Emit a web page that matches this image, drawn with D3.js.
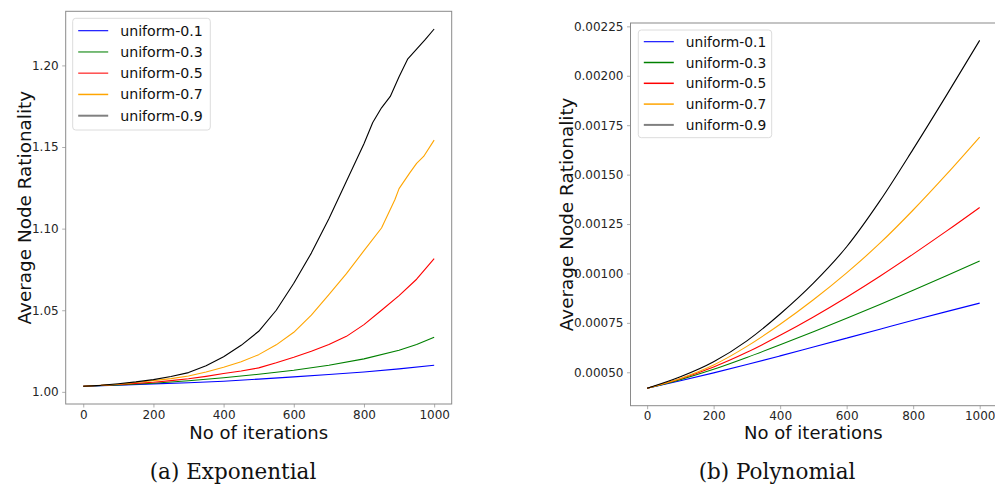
<!DOCTYPE html>
<html>
<head>
<meta charset="utf-8">
<script src="https://cdn.jsdelivr.net/npm/d3@7"></script>
<style>
  html, body { margin: 0; padding: 0; background: #fff; }
  svg { display: block; }
  text { font-family: "DejaVu Sans", sans-serif; }
</style>
</head>
<body>
<svg id="chart" width="995" height="486"></svg>
<script>
// ---- data -------------------------------------------------------------
const seriesNames = ["uniform-0.1", "uniform-0.3", "uniform-0.5", "uniform-0.7", "uniform-0.9"];
const seriesColors = ["#0000ff", "#008000", "#ff0000", "#ffa500", "#000000"];
const xTicks = [0, 200, 400, 600, 800, 1000];

// (a) Exponential: [iteration, average node rationality]
const expU01 = [[0,1.0034],[100,1.0041],[200,1.0049],[300,1.0056],[400,1.0065],[500,1.0078],[600,1.0092],[700,1.0106],[800,1.0122],[900,1.0141],[1000,1.0163]];
const expU03 = [[0,1.0034],[100,1.0043],[200,1.0053],[300,1.0068],[400,1.0086],[500,1.0108],[600,1.0132],[700,1.0163],[800,1.0202],[900,1.0255],[950,1.0290],[1000,1.0334]];
const expU05 = [[0,1.0034],[100,1.0045],[150,1.0052],[200,1.0059],[250,1.0069],[300,1.0080],[350,1.0095],[400,1.0112],[450,1.0128],[500,1.0147],[550,1.0178],[600,1.0212],[650,1.0249],[700,1.0290],[750,1.0340],[800,1.0412],[850,1.0500],[900,1.0590],[950,1.0690],[1000,1.0816]];
const expU07 = [[0,1.0034],[100,1.0047],[150,1.0057],[200,1.0069],[250,1.0081],[300,1.0097],[350,1.0122],[400,1.0151],[450,1.0185],[500,1.0228],[550,1.0288],[600,1.0365],[650,1.0470],[700,1.0595],[750,1.0724],[800,1.0865],[850,1.1004],[888,1.1177],[900,1.1245],[930,1.1340],[950,1.1400],[970,1.1442],[1000,1.1542]];
const expU09 = [[0,1.0034],[50,1.0040],[100,1.0050],[150,1.0061],[200,1.0075],[250,1.0094],[300,1.0118],[350,1.0160],[400,1.0215],[450,1.0285],[500,1.0371],[550,1.0500],[600,1.0665],[650,1.0850],[700,1.1060],[750,1.1290],[800,1.1520],[825,1.1650],[850,1.1740],[875,1.1810],[900,1.1930],[925,1.2040],[950,1.2100],[975,1.2160],[1000,1.2223]];
const expTicks = [1.00, 1.05, 1.10, 1.15, 1.20];

// (b) Polynomial: [iteration, average node rationality]
const polyU01 = [[0,0.000419],[100,0.000457],[200,0.000497],[300,0.000539],[400,0.000583],[500,0.000628],[600,0.000673],[700,0.000718],[800,0.000763],[900,0.000807],[1000,0.000850]];
const polyU03 = [[0,0.000419],[100,0.000463],[200,0.000515],[300,0.000575],[400,0.000639],[500,0.000705],[600,0.000773],[700,0.000843],[800,0.000915],[900,0.000988],[1000,0.001063]];
const polyU05 = [[0,0.000419],[100,0.000467],[200,0.000527],[300,0.000601],[400,0.000687],[500,0.000780],[600,0.000880],[700,0.000986],[800,0.001098],[900,0.001214],[1000,0.001334]];
const polyU07 = [[0,0.000419],[100,0.000469],[200,0.000537],[300,0.000631],[400,0.000743],[500,0.000867],[600,0.001003],[700,0.001153],[800,0.001321],[900,0.001501],[1000,0.001690]];
const polyU09 = [[0,0.000419],[100,0.000477],[200,0.000553],[300,0.000659],[400,0.000795],[500,0.000951],[600,0.001135],[700,0.001367],[800,0.001629],[900,0.001901],[1000,0.002179]];
const polyTicks = [0.0005, 0.00075, 0.001, 0.00125, 0.0015, 0.00175, 0.002, 0.00225];

// ---- drawing ------------------------------------------------------------
const svg = d3.select("#chart");

function panel(cfg) {
  const x = d3.scaleLinear().domain([-50, 1050]).range([cfg.left, cfg.right]);
  const y = d3.scaleLinear().domain(cfg.yDomain).range([cfg.bottom, cfg.top]);
  const g = svg.append("g");

  // curves
  const line = d3.line().x(d => x(d[0])).y(d => y(d[1])).curve(cfg.curve);
  cfg.series.forEach((s, i) => {
    g.append("path").datum(s)
      .attr("fill", "none")
      .attr("stroke", seriesColors[i])
      .attr("stroke-width", 1.1)
      .attr("stroke-linejoin", "round")
      .attr("d", line);
  });

  // x axis
  const xAxis = g.append("g").attr("transform", `translate(0,${cfg.bottom})`)
    .call(d3.axisBottom(x).tickValues(xTicks).tickFormat(d3.format("d")).tickSize(3.5).tickPadding(2.5));
  // y axis
  const yAxis = g.append("g").attr("transform", `translate(${cfg.left},0)`)
    .call(d3.axisLeft(y).tickValues(cfg.yTicks).tickFormat(d3.format(cfg.fmt)).tickSize(3.5).tickPadding(3.5));
  [xAxis, yAxis].forEach(a => {
    a.select(".domain").remove();
    a.selectAll(".tick line").attr("stroke", "#9a9a9a").attr("stroke-width", 0.8);
    a.selectAll(".tick text").attr("fill", "#262626").style("font-size", "12px")
      .style("font-family", "DejaVu Sans, sans-serif");
  });

  // frame
  g.append("rect")
    .attr("x", cfg.left).attr("y", cfg.top)
    .attr("width", cfg.right - cfg.left).attr("height", cfg.bottom - cfg.top)
    .attr("fill", "none").attr("stroke", "#8a8a8a").attr("stroke-width", 1);

  // axis titles
  g.append("text")
    .attr("x", (cfg.left + cfg.right) / 2).attr("y", 438.5)
    .attr("text-anchor", "middle").style("font-size", "18px").attr("fill", "#111")
    .text("No of iterations");
  g.append("text")
    .attr("transform", `translate(${cfg.yTitleX},${(cfg.top + cfg.bottom) / 2}) rotate(-90)`)
    .attr("text-anchor", "middle").style("font-size", "18.4px").attr("fill", "#111")
    .text("Average Node Rationality");

  // legend
  const L = cfg.legend;
  const lg = g.append("g");
  lg.append("rect")
    .attr("x", L.x).attr("y", L.y).attr("width", L.w).attr("height", L.h)
    .attr("rx", 3).attr("fill", "#fff").attr("fill-opacity", 0.85)
    .attr("stroke", "#dcdcdc").attr("stroke-width", 1);
  seriesNames.forEach((name, i) => {
    const cy = L.y + L.first + i * L.step;
    const last = i === seriesNames.length - 1;
    lg.append("line")
      .attr("x1", L.x + 5.5).attr("x2", L.x + 35.5).attr("y1", cy).attr("y2", cy)
      .attr("stroke", last ? "#808080" : seriesColors[i])
      .attr("stroke-opacity", (i === 1 || i === 2) && cfg.softLegend ? 0.7 : 1)
      .attr("stroke-width", last ? 2 : (i === 0 ? 1.1 : 1.5));
    lg.append("text")
      .attr("x", L.x + 47.5).attr("y", cy + 5)
      .style("font-size", L.fs + "px").attr("fill", "#111")
      .text(name);
  });

  // caption
  svg.append("text")
    .attr("x", cfg.capX).attr("y", 479)
    .attr("text-anchor", "middle")
    .style("font-family", "DejaVu Serif, serif").style("font-size", "21.5px").attr("fill", "#111")
    .text(cfg.caption);
}

panel({
  left: 65.7, right: 451.7, top: 11.3, bottom: 404,
  yDomain: [0.99256, 1.23314], yTicks: expTicks, fmt: ".2f",
  series: [expU01, expU03, expU05, expU07, expU09],
  curve: d3.curveLinear,
  yTitleX: 31,
  legend: { x: 72.7, y: 18.3, w: 137.6, h: 111.7, first: 12.4, step: 21.25, fs: 14.2 },
  softLegend: true,
  caption: "(a) Exponential", capX: 233
});

panel({
  left: 630.5, right: 996.3, top: 23, bottom: 405.7,
  yDomain: [0.000331, 0.002267], yTicks: polyTicks, fmt: ".5f",
  series: [polyU01, polyU03, polyU05, polyU07, polyU09],
  curve: d3.curveMonotoneX,
  yTitleX: 573,
  legend: { x: 638.3, y: 30, w: 133.4, h: 107.7, first: 11.7, step: 20.8, fs: 13.8 },
  softLegend: false,
  caption: "(b) Polynomial", capX: 777
});
</script>
</body>
</html>
